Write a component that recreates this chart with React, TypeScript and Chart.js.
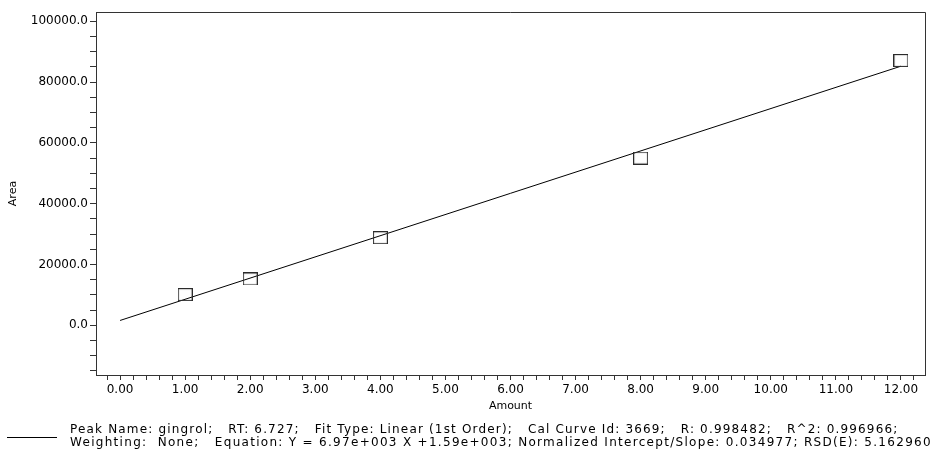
import React, { useEffect, useRef } from "react";
import { Chart, registerables } from "chart.js";

Chart.register(...registerables);

// ---- data ----
const standardAmounts = [1, 2, 4, 8, 12];
const standardAreas = [10100, 15250, 28800, 55000, 87100];
const fitAmounts = [0, 12];
const fitAreas = [1590, 85230];

const xMajorTicks = [0, 1, 2, 3, 4, 5, 6, 7, 8, 9, 10, 11, 12];
const xMinorTicks = Array.from({ length: 63 }, (_, i) => (i - 1) / 5);
const yMajorTicks = [0, 20000, 40000, 60000, 80000, 100000];
const yMinorTicks = [-15000, -10000, -5000, 0, 5000, 10000, 15000, 20000, 25000, 30000, 35000, 40000, 45000, 50000, 55000, 60000, 65000, 70000, 75000, 80000, 85000, 90000, 95000, 100000];

const xRange = [-0.37, 12.37];
const yRange = [-16350, 103060];

const footerLine1 = "Peak Name: gingrol;   RT: 6.727;   Fit Type: Linear (1st Order);   Cal Curve Id: 3669;   R: 0.998482;   R^2: 0.996966;";
const footerLine2 = "Weighting:  None;   Equation: Y = 6.97e+003 X +1.59e+003; Normalized Intercept/Slope: 0.034977; RSD(E): 5.162960";

const FONT = "'DejaVu Sans', Verdana, sans-serif";

function makeSquare(): HTMLCanvasElement {
  const c = document.createElement("canvas");
  c.width = 15;
  c.height = 13;
  const ctx = c.getContext("2d")!;
  ctx.strokeStyle = "#2b2b2b";
  ctx.lineWidth = 1.2;
  ctx.strokeRect(0.5, 0.5, 14, 12);
  return c;
}

const frameBox = {
  id: "frameBox",
  afterDraw(chart: any) {
    const { ctx, chartArea } = chart;
    ctx.save();
    ctx.strokeStyle = "#333";
    ctx.lineWidth = 1;
    ctx.beginPath();
    ctx.moveTo(chartArea.left, chartArea.top + 0.5);
    ctx.lineTo(chartArea.right + 0.5, chartArea.top + 0.5);
    ctx.lineTo(chartArea.right + 0.5, chartArea.bottom);
    ctx.stroke();
    ctx.restore();
  },
};

export default function App() {
  const ref = useRef<HTMLCanvasElement>(null);

  useEffect(() => {
    if (!ref.current) return;
    const square = makeSquare();
    const chart = new Chart(ref.current, {
      type: "scatter",
      data: {
        datasets: [
          {
            label: "fit",
            data: fitAmounts.map((x, i) => ({ x, y: fitAreas[i] })),
            showLine: true,
            borderColor: "#000",
            borderWidth: 1,
            pointRadius: 0,
            order: 2,
          },
          {
            label: "standards",
            data: standardAmounts.map((x, i) => ({ x, y: standardAreas[i] })),
            showLine: false,
            pointStyle: square as any,
            pointRadius: 7,
            order: 1,
          },
        ],
      },
      options: {
        animation: false,
        responsive: false,
        maintainAspectRatio: false,
        layout: { padding: { top: 12, right: 10, left: 0, bottom: 0 } },
        plugins: { legend: { display: false }, tooltip: { enabled: false } },
        scales: {
          x: {
            type: "linear",
            min: xRange[0],
            max: xRange[1],
            afterBuildTicks: (s: any) => {
              s.ticks = xMinorTicks.map((v) => ({ value: v }));
            },
            afterFit: (s: any) => {
              s.height = 81;
            },
            ticks: {
              autoSkip: false,
              maxRotation: 0,
              minRotation: 0,
              padding: 3,
              color: "#000",
              font: { family: FONT, size: 12 },
              callback: (v: any) => {
                const m = xMajorTicks.find((t) => Math.abs(t - v) < 1e-6);
                return m === undefined ? "" : m.toFixed(2);
              },
            },
            grid: { drawOnChartArea: false, drawTicks: true, tickLength: 5, color: "#333" },
            border: { display: true, color: "#333", width: 1 },
            title: {
              display: true,
              text: "Amount",
              color: "#000",
              font: { family: FONT, size: 11 },
              padding: { top: 0, bottom: 43 },
            },
          },
          y: {
            type: "linear",
            min: yRange[0],
            max: yRange[1],
            afterBuildTicks: (s: any) => {
              s.ticks = yMinorTicks.map((v) => ({ value: v }));
            },
            afterFit: (s: any) => {
              s.width = 96;
            },
            ticks: {
              autoSkip: false,
              padding: 2,
              color: "#000",
              font: { family: FONT, size: 12 },
              callback: (v: any) => (yMajorTicks.includes(v) ? Number(v).toFixed(1) : ""),
            },
            grid: { drawOnChartArea: false, drawTicks: true, tickLength: 6, color: "#333" },
            border: { display: true, color: "#333", width: 1 },
            title: {
              display: true,
              text: "Area",
              color: "#000",
              font: { family: FONT, size: 11 },
              padding: { top: 7, bottom: 0 },
            },
          },
        },
      },
      plugins: [frameBox],
    });
    return () => chart.destroy();
  }, []);

  return (
    <div style={{ position: "absolute", left: 0, top: 0, width: 935, height: 456, background: "#fff" }}>
      <canvas ref={ref} width={935} height={456} style={{ position: "absolute", left: 0, top: 0 }} />
      <div style={{ position: "absolute", left: 7, top: 437, width: 50, height: 0, borderTop: "1px solid #000" }} />
      <div
        style={{
          position: "absolute",
          left: 70,
          top: 423,
          fontFamily: FONT,
          fontSize: 12,
          lineHeight: "13px",
          color: "#000",
          whiteSpace: "pre",
        }}
      >
        <div style={{ letterSpacing: "1.17px" }}>{footerLine1}</div>
        <div style={{ letterSpacing: "1.3px" }}>{footerLine2}</div>
      </div>
    </div>
  );
}
